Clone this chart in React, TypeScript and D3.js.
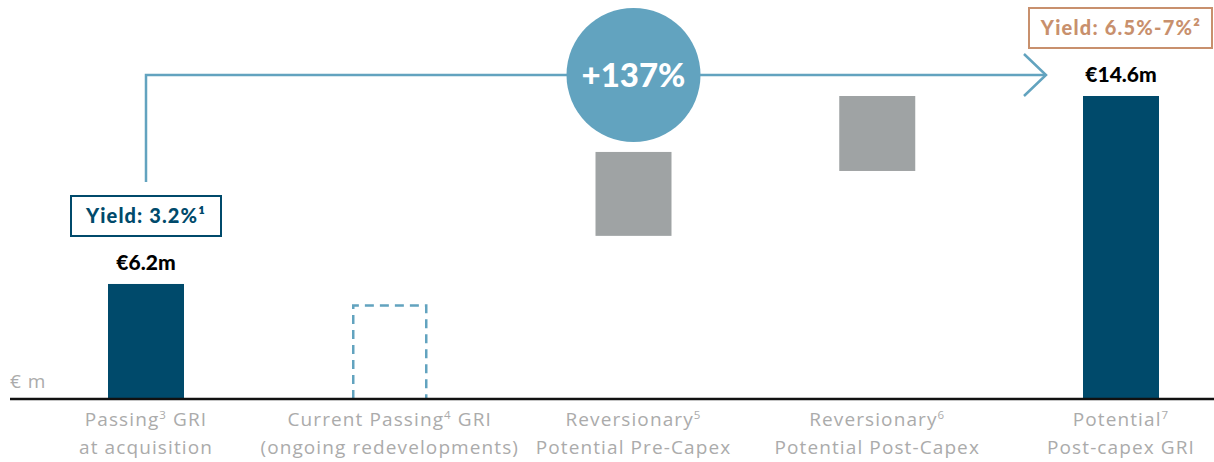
import { scaleLinear, scalePoint } from 'd3';

const width = 1214;
const height = 462;

// categories: [main text, superscript, rest] per line
const categories = ['passing', 'current', 'revPre', 'revPost', 'potential'];
const labelLine1 = [
	['Passing', '3', ' GRI'],
	['Current Passing', '4', ' GRI'],
	['Reversionary', '5', ''],
	['Reversionary', '6', ''],
	['Potential', '7', ''],
];
const labelLine2 = [
	'at acquisition',
	'(ongoing redevelopments)',
	'Potential Pre-Capex',
	'Potential Post-Capex',
	'Post-capex GRI',
];
// bar ranges in € m (schematic chart, axis does not start at 0)
const barLow = [1.06, 1.06, 8.35, 11.25, 1.06];
const barHigh = [6.2, 5.3, 12.1, 14.6, 14.6];
const barKind = ['solid', 'dashed', 'grey', 'grey', 'solid'];
const valueLabels = ['€6.2m', '', '', '', '€14.6m'];
const growthLabel = '+137%';
const yieldStart = 'Yield: 3.2%¹';
const yieldEnd = 'Yield: 6.5%-7%²';
const unitLabel = '€ m';

const darkBlue = '#004a6b';
const lightBlue = '#62a3bf';
const grey = '#9fa3a4';
const copper = '#c8906d';
const labelGrey = '#ababab';
const font = 'Lato, "Open Sans", sans-serif';
const labelFont = '"Open Sans", Lato, sans-serif';

const baseY = 399;
const barWidth = 76;

const App = () => {
	const xScale = scalePoint<string>().domain(categories).range([146, 1121]);
	const yScale = scaleLinear().domain([1.06, 14.6]).range([baseY, 96]);

	const x0 = xScale(categories[0]) as number;
	const x4 = xScale(categories[4]) as number;
	const arrowY = 75;
	const arrowTip = x4 - 75;
	const circleX = xScale(categories[2]) as number;

	return (
		<svg
			width={width}
			height={height}
			style={{ position: 'absolute', left: 0, top: 0, fontFamily: font }}
		>
			{/* bars */}
			{categories.map((c, i) => {
				const cx = xScale(c) as number;
				const y1 = yScale(barHigh[i]);
				const y0 = yScale(barLow[i]);
				if (barKind[i] === 'dashed') {
					return (
						<path
							key={c}
							d={`M${cx - barWidth / 2 + 1.5},${y0} V${y1 + 1.5} H${
								cx + barWidth / 2 - 1.5
							} V${y0}`}
							fill="none"
							stroke={lightBlue}
							strokeWidth={2.5}
							strokeDasharray="9,6"
						/>
					);
				}
				return (
					<rect
						key={c}
						x={cx - barWidth / 2}
						y={y1}
						width={barWidth}
						height={y0 - y1}
						fill={barKind[i] === 'grey' ? grey : darkBlue}
					/>
				);
			})}

			{/* baseline */}
			<line x1={10} x2={width} y1={baseY} y2={baseY} stroke="#111" strokeWidth={2.5} />
			<text
				x={10}
				y={388}
				fontSize={19}
				fill={labelGrey}
				fontFamily={labelFont}
				letterSpacing={1}
			>
				{unitLabel}
			</text>

			{/* category labels */}
			{categories.map((c, i) => (
				<text
					key={c}
					x={xScale(c)}
					textAnchor="middle"
					fontSize={19}
					fill={labelGrey}
					fontFamily={labelFont}
					letterSpacing={1.1}
				>
					<tspan x={xScale(c)} y={426}>
						{labelLine1[i][0]}
						<tspan fontSize={11.5} dy={-7}>
							{labelLine1[i][1]}
						</tspan>
						<tspan dy={7}>{labelLine1[i][2]}</tspan>
					</tspan>
					<tspan x={xScale(c)} y={454}>
						{labelLine2[i]}
					</tspan>
				</text>
			))}

			{/* value labels */}
			{categories.map((c, i) =>
				valueLabels[i] ? (
					<text
						key={c}
						x={xScale(c)}
						y={yScale(barHigh[i]) - 14}
						textAnchor="middle"
						fontSize={21}
						fontWeight={900}
						fill="#000"
					>
						{valueLabels[i]}
					</text>
				) : null
			)}

			{/* growth arrow */}
			<path
				d={`M${x0},182 V${arrowY} H${arrowTip}`}
				fill="none"
				stroke={lightBlue}
				strokeWidth={2.5}
			/>
			<path
				d={`M${arrowTip - 22},${arrowY - 21} L${arrowTip},${arrowY} L${arrowTip - 22},${
					arrowY + 21
				}`}
				fill="none"
				stroke={lightBlue}
				strokeWidth={2.5}
			/>
			<circle cx={circleX} cy={arrowY} r={67} fill={lightBlue} />
			<text
				x={circleX}
				y={87}
				textAnchor="middle"
				fontSize={33}
				fontWeight={900}
				fill="#fff"
			>
				{growthLabel}
			</text>

			{/* yield boxes */}
			<rect x={71} y={196} width={150} height={40} fill="#fff" stroke={darkBlue} strokeWidth={2} />
			<text
				x={146}
				y={223}
				textAnchor="middle"
				fontSize={20}
				fontWeight={900}
				fill={darkBlue}
				letterSpacing={1.1}
			>
				{yieldStart}
			</text>
			<rect x={1029} y={8} width={183} height={40} fill="#fff" stroke={copper} strokeWidth={2} />
			<text
				x={1121}
				y={35}
				textAnchor="middle"
				fontSize={20}
				fontWeight={900}
				fill={copper}
				letterSpacing={1.2}
			>
				{yieldEnd}
			</text>
		</svg>
	);
};

export default App;
